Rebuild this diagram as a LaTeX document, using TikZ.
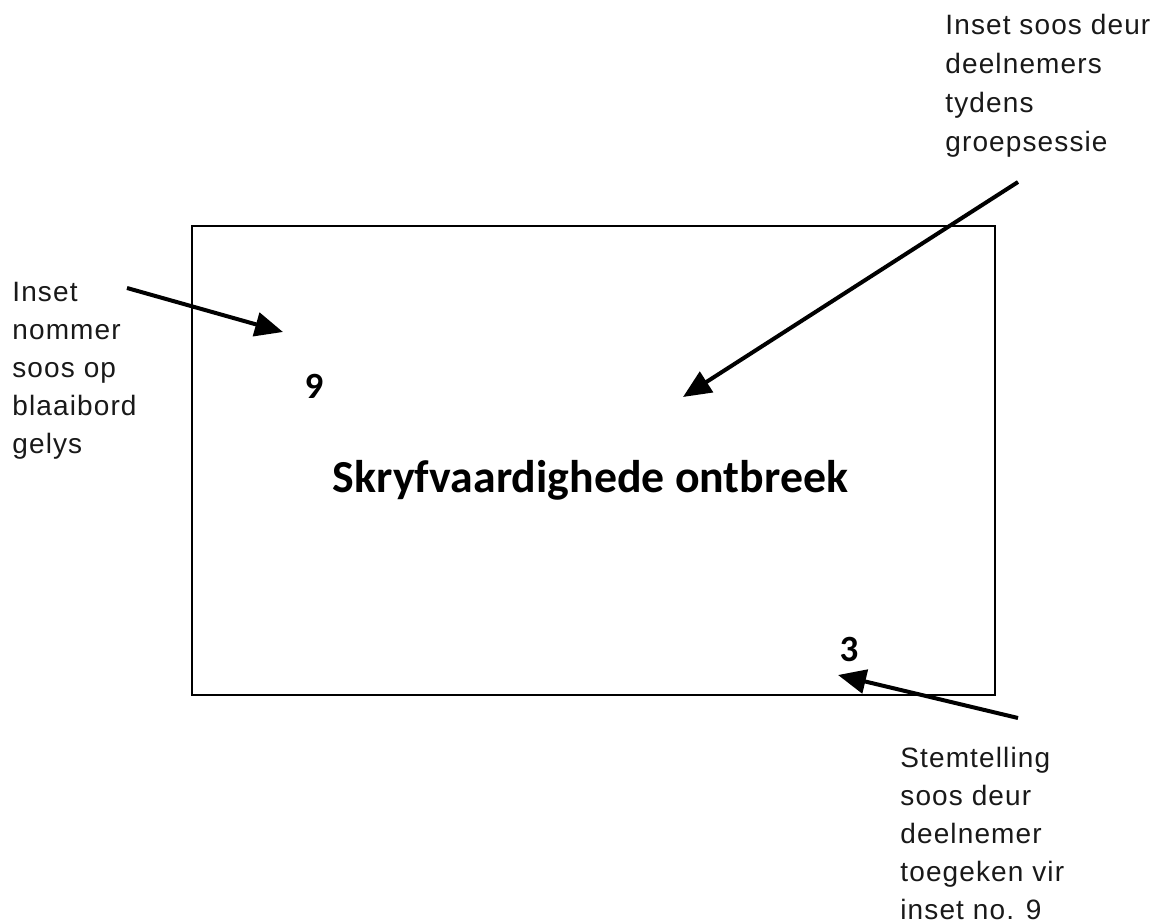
\documentclass[tikz,border=0pt]{standalone}
\usepackage{fontspec}
\setmainfont{Liberation Sans}
\newfontfamily\titlefont{Carlito}
\newfontfamily\labfont[LetterSpace=4]{Liberation Sans}
\usetikzlibrary{arrows.meta}
\begin{document}
\begin{tikzpicture}[x=0.5pt,y=-0.5pt,
  lab/.style={font=\labfont\fontsize{14}{19}\selectfont, align=left, inner sep=0, anchor=north west, text=black!90},
  ptr/.style={line width=2pt, -{Triangle[length=14pt,width=12pt]}},
  num/.style={font=\titlefont\bfseries\fontsize{18.5}{20}\selectfont, inner sep=0},
  ttl/.style={font=\titlefont\bfseries\fontsize{22.9}{26}\selectfont, inner sep=0, anchor=base}]
\useasboundingbox[fill=white] (0,0) rectangle (1155,924);
\node (box) [draw, line width=1pt, inner sep=0, minimum width=401.5pt, minimum height=234.5pt] at (593.5,460.5) {};
\node (title) [ttl] at (590.5,493) {Skryfvaardighede ontbreek};
\node (nine) [num] at (314,386) {9};
\node (three) [num] at (849,649) {3};
\node (lleft) [lab] at (12,282) {Inset\\nommer\\soos op\\blaaibord\\gelys};
\node (ltop) [lab, font=\labfont\fontsize{14}{19.5}\selectfont] at (945,14) {Inset soos deur\\deelnemers\\tydens\\groepsessie};
\node (lbot) [lab] at (900,747) {Stemtelling\\soos deur\\deelnemer\\toegeken vir\\inset no. 9};
\coordinate (a1s) at (127,288);
\coordinate (a1e) at (283,332);
\coordinate (a2s) at (1018,182);
\coordinate (a2e) at (683,397);
\coordinate (a3s) at (1018,718);
\coordinate (a3e) at (838,675);
\draw[ptr] (a1s) -- (a1e);
\draw[ptr] (a2s) -- (a2e);
\draw[ptr] (a3s) -- (a3e);
\end{tikzpicture}
\end{document}
